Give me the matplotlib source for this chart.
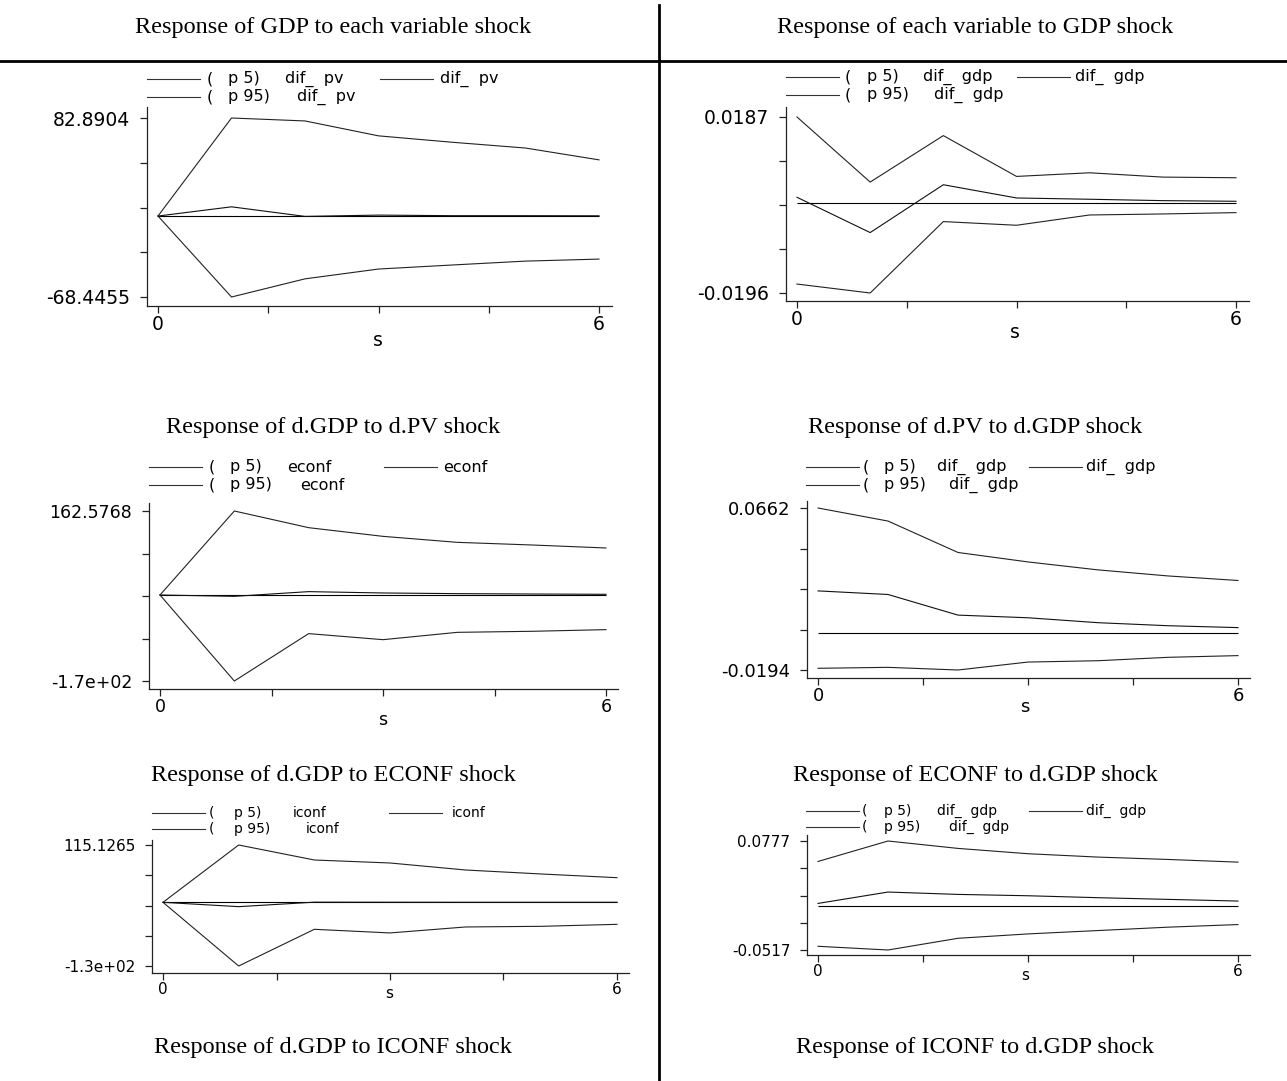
import numpy as np
import matplotlib
matplotlib.use("Agg")
import matplotlib.pyplot as plt
from matplotlib.lines import Line2D

W, H = 1287, 1081
fig = plt.figure(figsize=(W / 100, H / 100), dpi=100)

# ---------------- data ----------------
steps = [0, 1, 2, 3, 4, 5, 6]

headers = ["Response of GDP to each variable shock",
           "Response of each variable to GDP shock"]

captions = ["Response of d.GDP to d.PV shock", "Response of d.PV to d.GDP shock",
            "Response of d.GDP to ECONF shock", "Response of ECONF to d.GDP shock",
            "Response of d.GDP to ICONF shock", "Response of ICONF to d.GDP shock"]

legend_vars = ["dif_  pv", "dif_  gdp", "econf", "dif_  gdp", "iconf", "dif_  gdp"]

ytick_top = ["82.8904", "0.0187", "162.5768", "0.0662", "115.1265", "0.0777"]
ytick_bot = ["-68.4455", "-0.0196", "-1.7e+02", "-0.0194", "-1.3e+02", "-0.0517"]
ymax_vals = [82.8904, 0.0187, 162.5768, 0.0662, 115.1265, 0.0777]
ymin_vals = [-68.4455, -0.0196, -166.5, -0.0194, -127.9, -0.0517]

# panel 1: d.GDP <- d.PV
p1_upper = [0, 82.89, 80.4, 67.8, 62.4, 57.5, 47.5]
p1_irf = [0, 7.8, -0.3, 0.8, 0.3, 0.3, 0.2]
p1_lower = [0, -68.45, -53.1, -44.8, -41.4, -38.1, -36.4]
# panel 2: d.PV <- d.GDP
p2_upper = [0.0187, 0.00454, 0.01465, 0.00577, 0.00656, 0.00562, 0.00548]
p2_irf = [0.00123, -0.00645, 0.00396, 0.00108, 0.0008, 0.0005, 0.00036]
p2_lower = [-0.01765, -0.0196, -0.00406, -0.00486, -0.00262, -0.0024, -0.00211]
# panel 3: d.GDP <- ECONF
p3_upper = [0, 162.58, 130.3, 113.5, 101.9, 96.8, 91.0]
p3_irf = [0, -2.6, 6.5, 3.9, 2.6, 1.9, 1.3]
p3_lower = [0, -166.5, -74.8, -86.5, -72.3, -70.3, -67.1]
# panel 4: ECONF <- d.GDP
p4_upper = [0.0662, 0.0593, 0.0427, 0.0377, 0.0335, 0.0303, 0.0279]
p4_irf = [0.0224, 0.0205, 0.0096, 0.0082, 0.0056, 0.0040, 0.0030]
p4_lower = [-0.0185, -0.0180, -0.0194, -0.0152, -0.0145, -0.0127, -0.0118]
# panel 5: d.GDP <- ICONF
p5_upper = [0, 115.13, 85.0, 79.0, 64.9, 56.9, 49.5]
p5_irf = [0, -8.7, 0.3, 0.2, 0.1, 0.1, 0.1]
p5_lower = [0, -127.9, -54.2, -61.5, -49.5, -48.2, -44.2]
# panel 6: ICONF <- d.GDP
p6_upper = [0.0534, 0.0777, 0.0689, 0.0626, 0.0586, 0.0558, 0.0526]
p6_irf = [0.0036, 0.0171, 0.0143, 0.0127, 0.0104, 0.0084, 0.0064]
p6_lower = [-0.0473, -0.0517, -0.0378, -0.0326, -0.0286, -0.0246, -0.0215]

series = [(p1_lower, p1_irf, p1_upper), (p2_lower, p2_irf, p2_upper),
          (p3_lower, p3_irf, p3_upper), (p4_lower, p4_irf, p4_upper),
          (p5_lower, p5_irf, p5_upper), (p6_lower, p6_irf, p6_upper)]

# ---------------- layout (pixels) ----------------
# L, T, R, B : axes box ; x0px, x6px ; ymaxpx, yminpx
boxes = [
    (147, 107, 612, 306, 158, 599, 118, 297),
    (786, 107, 1249, 301, 797, 1236, 117, 293),
    (149, 503, 618, 689, 160, 606, 511, 681),
    (807, 501, 1250, 678, 818, 1238, 508, 670),
    (152, 840, 629, 973, 163, 617, 845, 966),
    (807, 835, 1250, 955, 818, 1238, 841, 950),
]
# legend: line start x, row1 y, row2 y, offsets (paren, p, var1, var2, line2, text2)
legends = [
    (147, 79, 97, (60, 81, 138, 150, 233, 293)),
    (786, 77, 95, (59, 81, 137, 148, 231, 289)),
    (149, 467, 485, (60, 81, 138, 151, 235, 294)),
    (806, 467, 485, (57, 78, 131, 143, 223, 280)),
    (152, 813, 829, (57, 82, 141, 154, 237, 300)),
    (806, 811, 827, (56, 78, 131, 143, 223, 280)),
]
s_pos = [(378, 340), (1015, 332), (383, 720), (1025, 707), (389, 993), (1025, 975)]
cap_pos = [(333, 427), (975, 427), (333, 775), (975, 775), (333, 1048), (975, 1048)]
tick_fs = [13.5, 13.5, 12.5, 13.0, 11.0, 11.0]
leg_fs = [11.5, 11.5, 11.5, 11.5, 10, 10]

SERIF = ["Liberation Serif", "DejaVu Serif"]
SANS = ["DejaVu Sans"]


def fx(x):
    return x / W


def fy(y):
    return 1 - y / H


def fline(x1, x2, y1, y2, lw=0.8, color="black"):
    fig.add_artist(Line2D([fx(x1), fx(x2)], [fy(y1), fy(y2)], lw=lw,
                          color=color, transform=fig.transFigure))


# headers and table rules
for txt, xc in zip(headers, [333, 975]):
    fig.text(fx(xc), fy(27), txt, ha="center", va="center", fontsize=17.5,
             family=SERIF)
fline(0, W, 61, 61, lw=2.0)
fline(659, 659, 5, H, lw=2.0)

for i in range(6):
    L, T, R, B, x0p, x6p, ytp, ybp = boxes[i]
    ax = fig.add_axes([fx(L), fy(B), (R - L) / W, (B - T) / H])
    unit = (x6p - x0p) / 6.0
    ax.set_xlim(-(x0p - L) / unit, 6 + (R - x6p) / unit)
    ymax, ymin = ymax_vals[i], ymin_vals[i]
    sc = (ybp - ytp) / (ymax - ymin)
    ax.set_ylim(ymin - (B - ybp) / sc, ymax + (ytp - T) / sc)

    lower, irf, upper = series[i]
    ax.hlines(0, steps[0], steps[-1], color="black", lw=0.8)
    ax.plot(steps, lower, color="#222222", lw=0.8)
    ax.plot(steps, irf, color="#111111", lw=0.8)
    ax.plot(steps, upper, color="#222222", lw=0.8)

    for sp in ["top", "right"]:
        ax.spines[sp].set_visible(False)
    for sp in ["left", "bottom"]:
        ax.spines[sp].set_linewidth(0.9)
        ax.spines[sp].set_color("#222222")
    ax.patch.set_alpha(0)

    ax.set_xticks(np.linspace(steps[0], steps[-1], 5))
    ax.set_xticklabels(["0", "", "", "", "6"], family=SANS, fontsize=tick_fs[i])
    ax.set_yticks(np.linspace(ymin, ymax, 5))
    ax.set_yticklabels([ytick_bot[i], "", "", "", ytick_top[i]], family=SANS,
                       fontsize=tick_fs[i])
    ax.tick_params(axis="both", direction="out", length=5, width=0.9,
                   color="#222222", pad=1.5)
    ax.tick_params(axis="y", pad=7)

    sx, sy = s_pos[i]
    fig.text(fx(sx), fy(sy), "s", ha="center", va="center", family=SANS,
             fontsize=tick_fs[i])
    cx, cy = cap_pos[i]
    fig.text(fx(cx), fy(cy), captions[i], ha="center", va="center",
             fontsize=17.5, family=SERIF)

    # legend
    lx, r1, r2, off = legends[i]
    o_par, o_p, o_v1, o_v2, o_l2, o_t2 = off
    var = legend_vars[i]
    fs = leg_fs[i]
    for ry, ptxt, ov in [(r1, "p 5)", o_v1), (r2, "p 95)", o_v2)]:
        fline(lx, lx + 53, ry, ry, lw=0.8, color="#333333")
        fig.text(fx(lx + o_par), fy(ry), "(", ha="left", va="center",
                 family=SANS, fontsize=fs)
        fig.text(fx(lx + o_p), fy(ry), ptxt, ha="left", va="center",
                 family=SANS, fontsize=fs)
        fig.text(fx(lx + ov), fy(ry), var, ha="left", va="center",
                 family=SANS, fontsize=fs)
    fline(lx + o_l2, lx + o_l2 + 53, r1, r1, lw=0.8, color="#333333")
    fig.text(fx(lx + o_t2), fy(r1), var, ha="left", va="center",
             family=SANS, fontsize=fs)

fig.savefig("out.png", dpi=100, facecolor="white")
